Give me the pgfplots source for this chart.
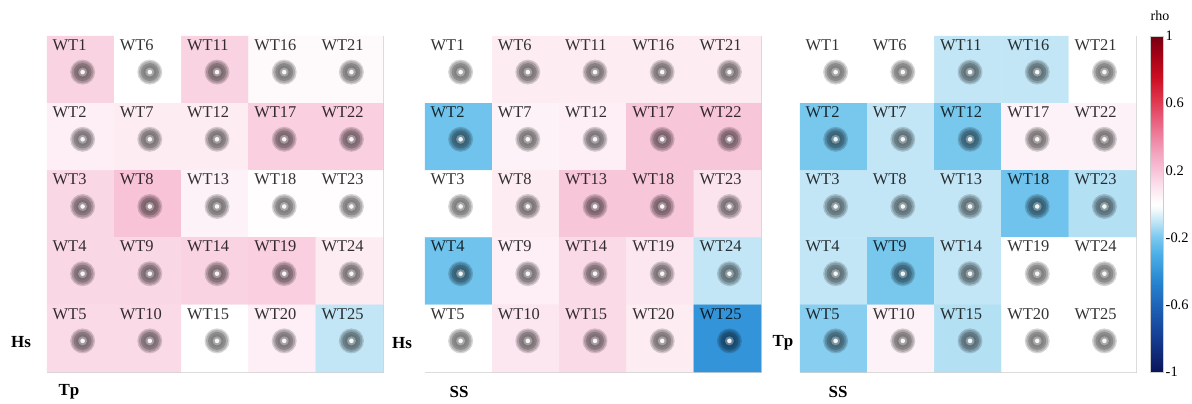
\documentclass[border=0pt]{standalone}
\usepackage{pgfplots}
\pgfplotsset{compat=1.18}
\usepackage{pgfplotstable}
\usepackage{fontspec}
\setmainfont{Liberation Serif}

\pgfplotsset{colormap={rhomap}{
rgb255(0)=(10,20,90)
rgb255(20)=(20,60,145)
rgb255(40)=(30,100,185)
rgb255(55)=(40,135,210)
rgb255(70)=(75,175,230)
rgb255(80)=(120,200,238)
rgb255(90)=(195,230,246)
rgb255(97)=(245,250,253)
rgb255(100)=(255,255,255)
rgb255(103)=(254,248,250)
rgb255(110)=(252,228,238)
rgb255(120)=(248,195,215)
rgb255(130)=(243,165,192)
rgb255(140)=(238,130,160)
rgb255(150)=(232,95,125)
rgb255(160)=(225,60,85)
rgb255(175)=(205,15,35)
rgb255(190)=(160,0,20)
rgb255(200)=(115,0,15)
}}

% Panel 1: Hs vs Tp
\pgfplotstableread{
x y c label
0 0 0.15 WT1
1 0 0.00 WT6
2 0 0.15 WT11
3 0 0.02 WT16
4 0 0.02 WT21
0 1 0.06 WT2
1 1 0.07 WT7
2 1 0.07 WT12
3 1 0.16 WT17
4 1 0.16 WT22
0 2 0.14 WT3
1 2 0.20 WT8
2 2 0.05 WT13
3 2 0.01 WT18
4 2 0.01 WT23
0 3 0.14 WT4
1 3 0.14 WT9
2 3 0.15 WT14
3 3 0.16 WT19
4 3 0.07 WT24
0 4 0.13 WT5
1 4 0.13 WT10
2 4 0.00 WT15
3 4 0.06 WT20
4 4 -0.10 WT25
}\tabA

% Panel 2: Hs vs SS
\pgfplotstableread{
x y c label
0 0 0.00 WT1
1 0 0.07 WT6
2 0 0.07 WT11
3 0 0.07 WT16
4 0 0.07 WT21
0 1 -0.22 WT2
1 1 0.05 WT7
2 1 0.06 WT12
3 1 0.19 WT17
4 1 0.19 WT22
0 2 0.00 WT3
1 2 0.07 WT8
2 2 0.19 WT13
3 2 0.19 WT18
4 2 0.10 WT23
0 3 -0.22 WT4
1 3 0.06 WT9
2 3 0.13 WT14
3 3 0.09 WT19
4 3 -0.10 WT24
0 4 0.00 WT5
1 4 0.09 WT10
2 4 0.13 WT15
3 4 0.07 WT20
4 4 -0.40 WT25
}\tabB

% Panel 3: Tp vs SS
\pgfplotstableread{
x y c label
0 0 0.00 WT1
1 0 0.00 WT6
2 0 -0.10 WT11
3 0 -0.10 WT16
4 0 0.00 WT21
0 1 -0.20 WT2
1 1 -0.10 WT7
2 1 -0.20 WT12
3 1 0.05 WT17
4 1 0.05 WT22
0 2 -0.10 WT3
1 2 -0.10 WT8
2 2 -0.10 WT13
3 2 -0.22 WT18
4 2 -0.12 WT23
0 3 -0.10 WT4
1 3 -0.20 WT9
2 3 -0.10 WT14
3 3 0.00 WT19
4 3 0.00 WT24
0 4 -0.18 WT5
1 4 0.05 WT10
2 4 -0.12 WT15
3 4 0.00 WT20
4 4 0.00 WT25
}\tabC

\pgfplotsset{
  heatbase/.style={
    width=336bp, height=336bp, scale only axis,
    anchor=south west,
    xmin=-0.5, xmax=4.5, ymin=-0.5, ymax=4.5,
    y dir=reverse,
    xtick=\empty, ytick=\empty,
    axis line style={draw=gray!35},
    colormap name=rhomap,
    point meta min=-1, point meta max=1,
    clip=false,
  },
}

\newcommand{\icon}[4]{% table, size, fill colour, opacity
  \addplot[only marks, mark=*, mark size=#2,
    mark options={fill=#3, draw=#3, draw opacity=0, fill opacity=#4, line width=0pt}]
    table[x expr=\thisrow{x}+0.03, y expr=\thisrow{y}+0.037]{#1};
}

\newcommand{\heatpanel}[1]{%
  \addplot[matrix plot*, mesh/cols=5, mesh/ordering=x varies, point meta=explicit]
    table[x=x, y=y, meta=c]{#1};
  \icon{#1}{12.5bp}{black}{0.16}
  \icon{#1}{11bp}{black}{0.18}
  \icon{#1}{9bp}{black}{0.2}
  \icon{#1}{6.5bp}{black}{0.08}
  \icon{#1}{4.5bp}{white}{0.3}
  \icon{#1}{2.3bp}{white}{0.9}
  \addplot[draw=none, mark=none, nodes near coords, point meta=explicit symbolic,
    nodes near coords style={anchor=west, inner sep=0pt, text=black, text opacity=0.8,
      font=\fontsize{16.5}{16.5}\selectfont}]
    table[x expr=\thisrow{x}-0.418, y expr=\thisrow{y}-0.366, meta=label]{#1};
}

\begin{document}
\begin{tikzpicture}
\useasboundingbox (0,0) rectangle (1192bp,404bp);

\begin{axis}[heatbase, at={(47bp,32bp)}]
\heatpanel{\tabA}
\end{axis}

\begin{axis}[heatbase, at={(425bp,32bp)}]
\heatpanel{\tabB}
\end{axis}

\begin{axis}[heatbase, at={(800bp,32bp)},
  colorbar,
  colorbar style={
    at={(parent axis.north east)}, anchor=north west, xshift=6bp,
    width=13bp,
    ytick={-1,-0.6,-0.2,0.2,0.6,1},
    major tick length=0pt,
    axis line style={draw=gray!40},
    yticklabel style={font=\fontsize{14.5}{14.5}\selectfont,
      /pgf/number format/assume math mode=true, inner sep=2pt},
    title={rho},
    title style={at={(0.5,1)}, anchor=center, yshift=14bp, xshift=3bp,
      font=\fontsize{14}{14}\selectfont},
  }]
\heatpanel{\tabC}
\end{axis}

\node[font=\bfseries\fontsize{17}{17}\selectfont] at (21bp,62bp) {Hs};
\node[font=\bfseries\fontsize{17}{17}\selectfont] at (69bp,12bp) {Tp};
\node[font=\bfseries\fontsize{17}{17}\selectfont] at (402bp,61bp) {Hs};
\node[font=\bfseries\fontsize{17}{17}\selectfont] at (459bp,12bp) {SS};
\node[font=\bfseries\fontsize{17}{17}\selectfont] at (783bp,61bp) {Tp};
\node[font=\bfseries\fontsize{17}{17}\selectfont] at (838bp,12bp) {SS};
\end{tikzpicture}
\end{document}
